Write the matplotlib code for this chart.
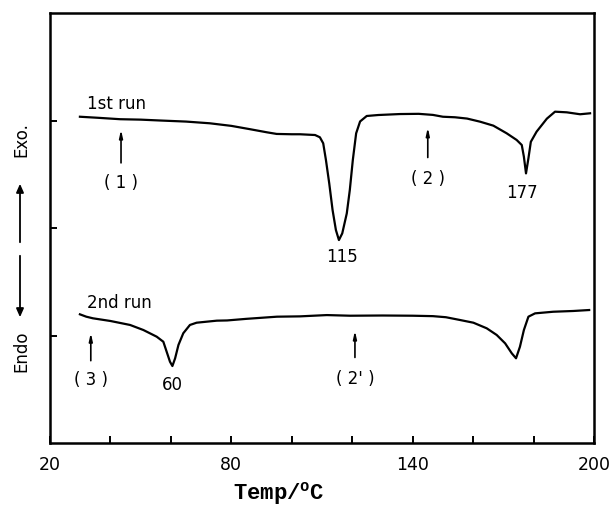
import matplotlib
matplotlib.use("Agg")
import matplotlib.pyplot as plt
import numpy as np

plt.rcParams['font.family'] = 'DejaVu Sans'
plt.rcParams['mathtext.fontset'] = 'custom'
plt.rcParams['mathtext.rm'] = 'Liberation Mono:bold'

# 1st run trace (temperature in degC, signal in arbitrary units)
temp_1st = [29.9, 36.0, 43.2, 50.0, 56.4, 65.0, 72.9, 80.0, 86.0, 91.8, 95.0, 100.0,
            102.7, 107.7, 109.3, 110.4, 111.3, 112.4, 113.5, 114.6, 115.6, 116.7,
            118.2, 119.2, 120.2, 121.3, 122.6, 124.8, 128.6, 135.8, 142.0, 146.7,
            150.0, 154.0, 158.0, 162.3, 166.7, 171.1, 174.4, 176.1, 176.8, 177.5,
            178.3, 179.1, 181.0, 184.4, 187.1, 191.0, 195.4, 198.7]
sig_1st = [3.035, 3.025, 3.012, 3.008, 3.000, 2.990, 2.974, 2.950, 2.920, 2.890, 2.875, 2.872,
           2.872, 2.865, 2.844, 2.788, 2.633, 2.414, 2.167, 1.981, 1.888, 1.950,
           2.136, 2.353, 2.633, 2.881, 2.991, 3.042, 3.051, 3.060, 3.062, 3.052,
           3.035, 3.030, 3.018, 2.989, 2.952, 2.881, 2.819, 2.772, 2.663, 2.508,
           2.648, 2.802, 2.896, 3.017, 3.082, 3.076, 3.058, 3.067]

# 2nd run trace
temp_2nd = [29.9, 32.0, 34.2, 40.0, 46.5, 50.9, 55.3, 57.5, 58.6, 59.7, 60.5, 61.4,
            62.5, 64.1, 66.3, 68.5, 75.2, 78.6, 85.0, 95.1, 102.7, 111.6, 119.3,
            130.0, 140.0, 146.7, 151.0, 155.7, 160.1, 164.5, 167.8, 170.6, 172.8,
            174.2, 175.5, 176.8, 178.3, 180.5, 186.5, 193.1, 198.4]
sig_2nd = [1.197, 1.175, 1.160, 1.135, 1.098, 1.051, 0.989, 0.942, 0.849, 0.756, 0.716, 0.788,
           0.912, 1.021, 1.098, 1.119, 1.138, 1.140, 1.155, 1.175, 1.178, 1.190, 1.184,
           1.186, 1.184, 1.180, 1.170, 1.144, 1.119, 1.067, 1.005, 0.927, 0.834,
           0.788, 0.896, 1.051, 1.175, 1.206, 1.221, 1.228, 1.237]

# peak labels
peak_text = ["115", "177", "60"]
peak_temp = [116.6, 176.2, 60.4]
peak_sig = [1.73, 2.33, 0.54]

# marked points (arrows)
mark_text = ["(1)", "(2)", "(3)", "(2')"]
mark_temp = [43.5, 145.0, 33.5, 120.9]
mark_base = [2.58, 2.63, 0.74, 0.77]
mark_tip = [2.94, 2.96, 1.05, 1.07]
mark_label_sig = [2.42, 2.46, 0.585, 0.595]

x_ticks = [20, 40, 60, 80, 100, 120, 140, 160, 180, 200]
x_ticklabels = ["20", "", "", "80", "", "", "140", "", "", "200"]

fig = plt.figure(figsize=(6.14, 5.08), dpi=100)
ax = fig.add_axes([50/614, 65/508, 544/614, 430/508])

ax.plot(temp_1st, sig_1st, color="black", lw=1.6, solid_joinstyle="round")
ax.plot(temp_2nd, sig_2nd, color="black", lw=1.6, solid_joinstyle="round")

ax.text(32.2, 3.15, "1st run", fontsize=12, ha="left", va="center")
ax.text(32.2, 1.305, "2nd run", fontsize=12, ha="left", va="center")

for t, x, y in zip(peak_text, peak_temp, peak_sig):
	ax.text(x, y, t, fontsize=12, ha="center", va="center")

for t, x, y0, y1, yl in zip(mark_text, mark_temp, mark_base, mark_tip, mark_label_sig):
	ax.annotate("", xy=(x, y1), xytext=(x, y0),
		arrowprops=dict(arrowstyle="-|>,head_length=0.45,head_width=0.1", color="black", lw=1.2))
	ax.text(x, yl, t.replace("(", "( ").replace(")", " )"), fontsize=12, ha="center", va="center")

ax.set_xlim(20, 200)
ax.set_ylim(0, 4)
ax.set_xticks(x_ticks)
ax.set_xticklabels(x_ticklabels, fontsize=12.5)
ax.set_yticks([1, 2, 3])
ax.set_yticklabels([])
ax.tick_params(direction="in", length=5, width=1.4, pad=9)
for s in ax.spines.values():
	s.set_linewidth(1.8)

# x label
fig.text(279/614, 9/508, r"Temp/$^{\mathrm{o}}$C", fontsize=16, fontfamily="Liberation Mono",
	fontweight="bold", ha="center", va="baseline")

# y label: Endo <-> Exo.
fig.text(21/614, (508-140)/508, "Exo.", rotation=90, fontsize=12, ha="center", va="center")
fig.text(21/614, (508-351)/508, "Endo", rotation=90, fontsize=12, ha="center", va="center")
fig.add_artist(matplotlib.patches.FancyArrowPatch((20/614, (508-245)/508), (20/614, (508-181)/508),
	transform=fig.transFigure, arrowstyle="-|>,head_length=5,head_width=2.2", color="black", lw=1.3))
fig.add_artist(matplotlib.patches.FancyArrowPatch((20/614, (508-253)/508), (20/614, (508-320)/508),
	transform=fig.transFigure, arrowstyle="-|>,head_length=5,head_width=2.2", color="black", lw=1.3))

plt.savefig("out.png", dpi=100)
plt.close()
